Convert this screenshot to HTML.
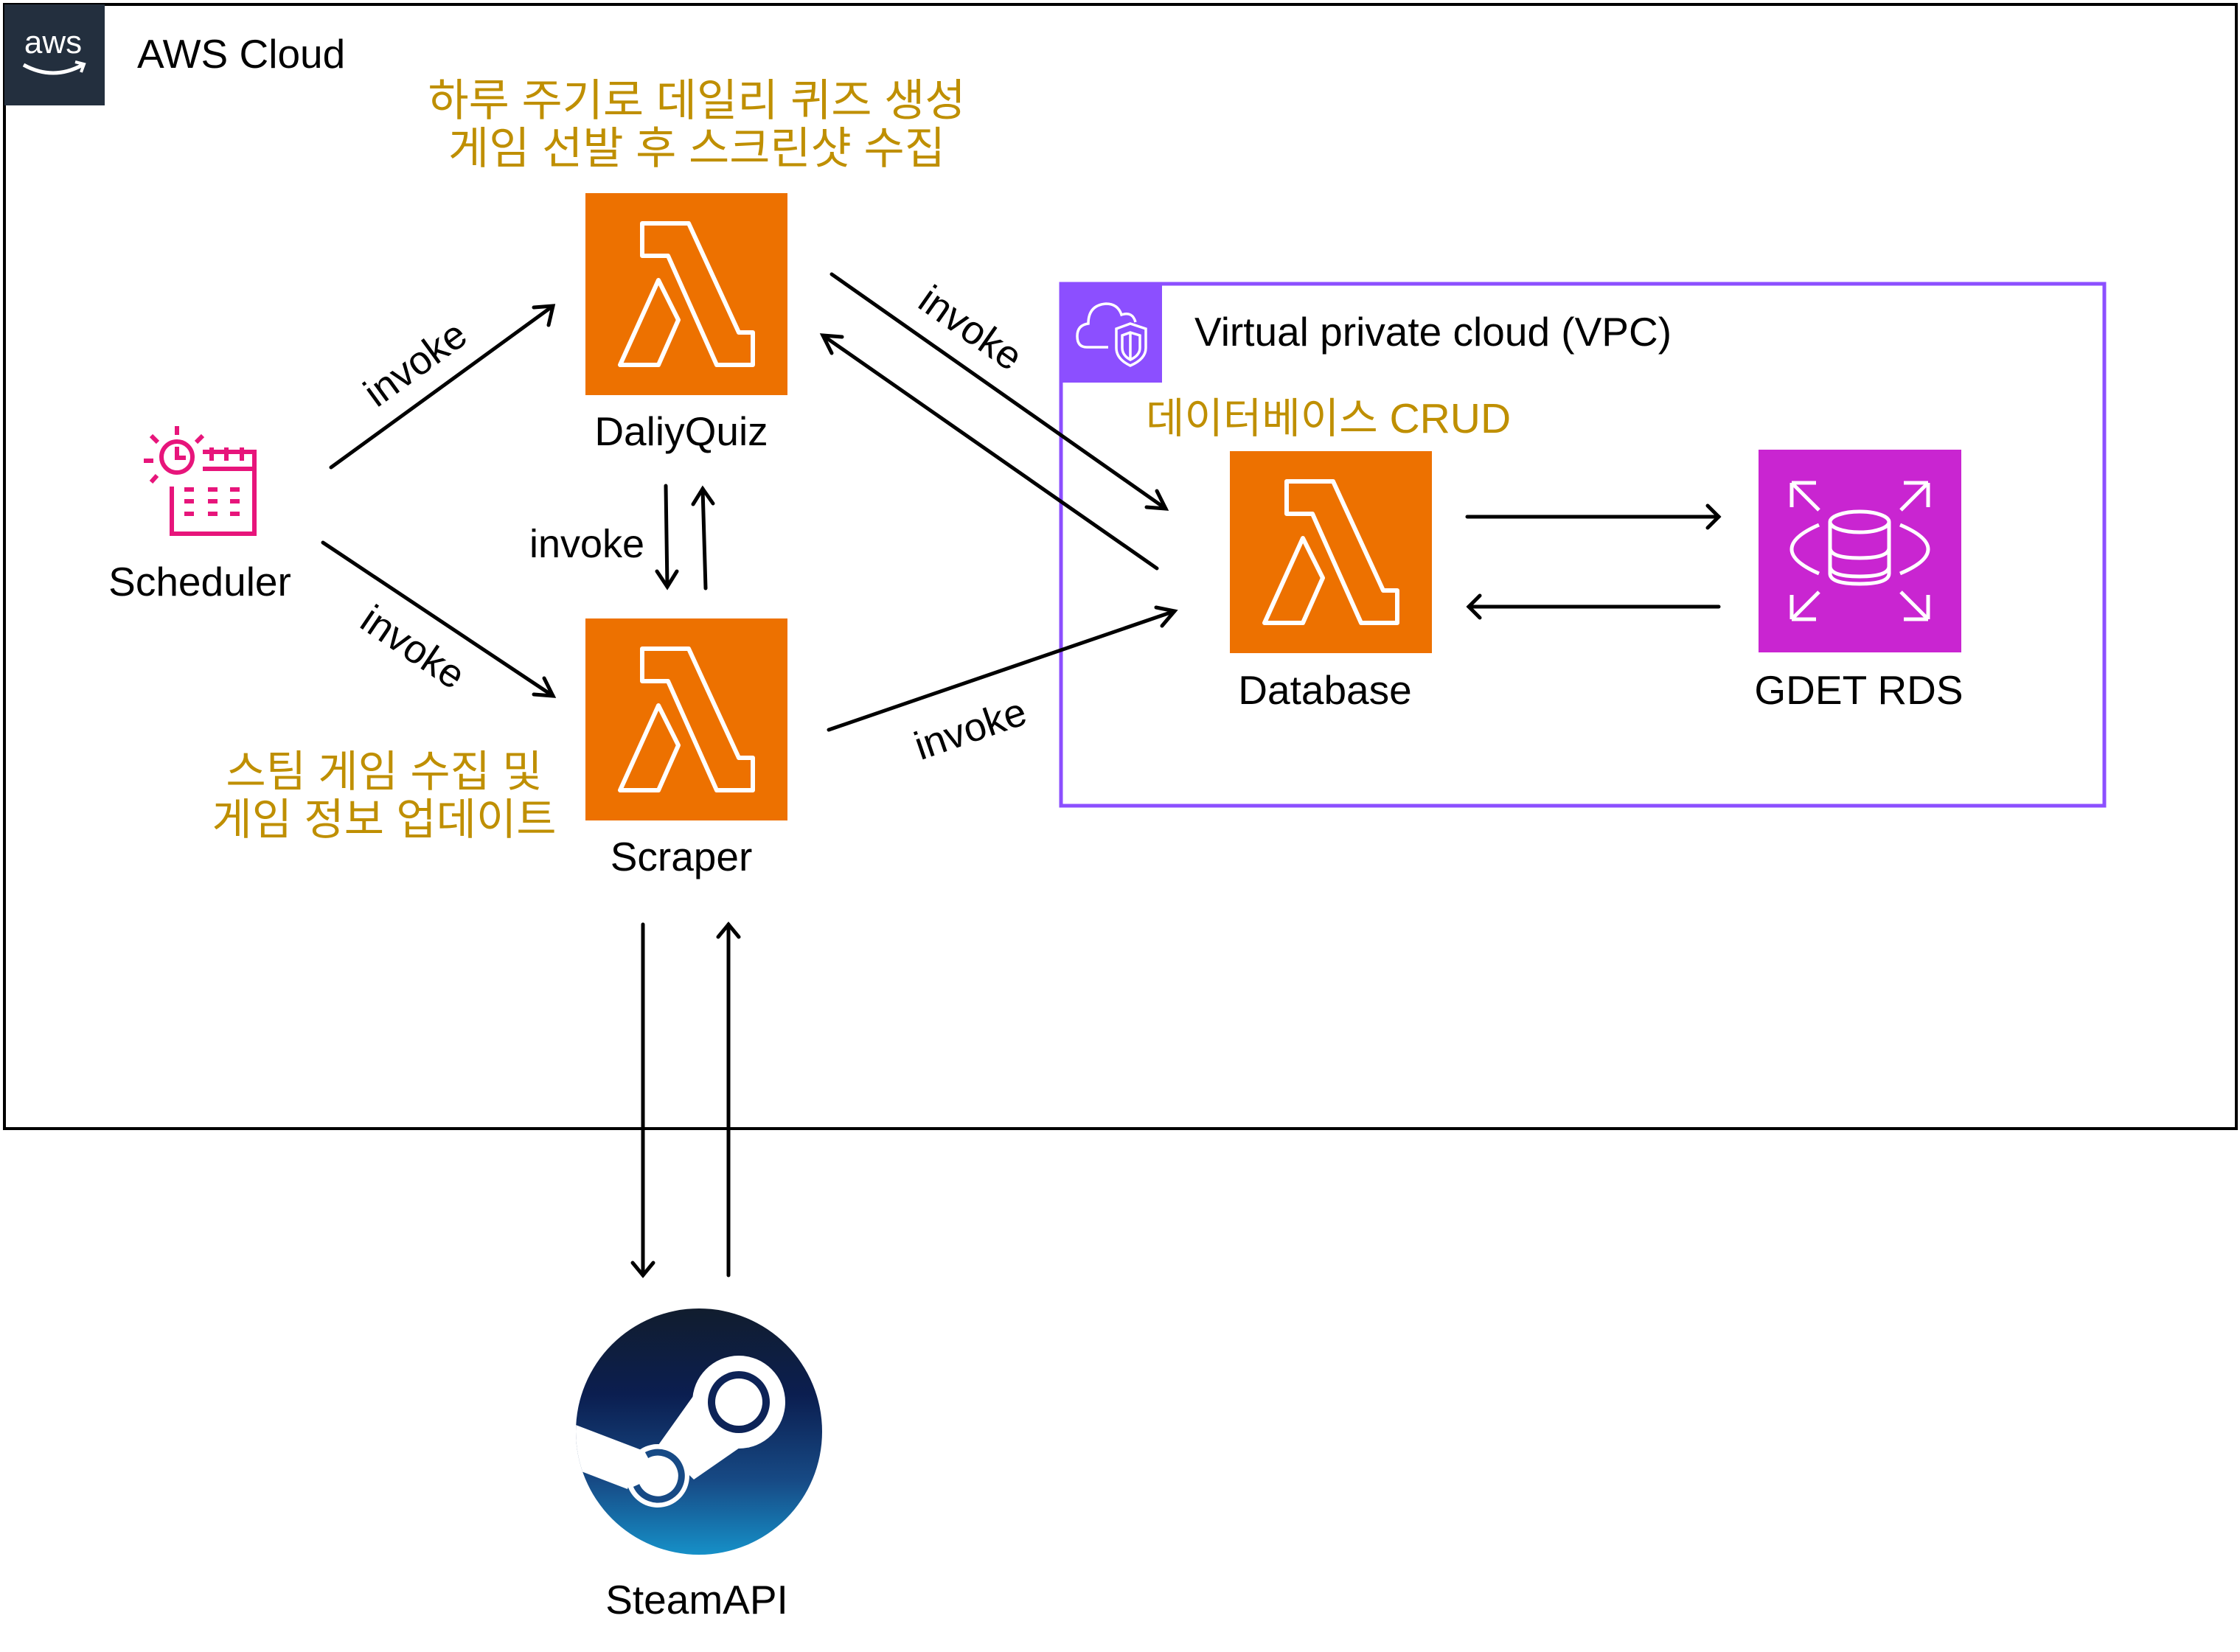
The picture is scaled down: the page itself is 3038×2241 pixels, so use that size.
<!DOCTYPE html>
<html><head><meta charset="utf-8"><style>
html,body{margin:0;padding:0;background:#fff;width:3038px;height:2241px;overflow:hidden}
text{font-family:"Liberation Sans","Noto Sans CJK KR",sans-serif}
</style></head><body>
<svg width="3038" height="2241" viewBox="0 0 3038 2241" xmlns="http://www.w3.org/2000/svg">
<defs>
<g id="lam">
<rect x="0" y="0" width="274" height="274" fill="#ed7100"/>
<path d="M77,41 L140,41 L208,189 L227,189 L227,233 L178,233 L112,85 L77,85 Z" fill="none" stroke="#fff" stroke-width="6" stroke-linejoin="round"/>
<path d="M99,118 L47,233 L99,233 L126,172 Z" fill="none" stroke="#fff" stroke-width="6" stroke-linejoin="round"/>
</g>
<linearGradient id="sg" x1="0" y1="0" x2="0" y2="1">
<stop offset="0" stop-color="#111d2e"/><stop offset="0.35" stop-color="#0b1e50"/><stop offset="0.7" stop-color="#174a85"/><stop offset="1" stop-color="#1690c8"/>
</linearGradient>
<clipPath id="sc"><circle cx="0" cy="0" r="167"/></clipPath>
</defs>

<rect x="6" y="6" width="3027" height="1525" fill="none" stroke="#000" stroke-width="4"/>
<rect x="6" y="6" width="136" height="137" fill="#232f3e"/>
<text x="72" y="72" font-size="44" fill="#fff" text-anchor="middle">aws</text>
<path d="M32,88 Q72,110 112,88" fill="none" stroke="#fff" stroke-width="5"/>
<path d="M102,84 L114,87 L110,98" fill="none" stroke="#fff" stroke-width="4"/>
<text x="186" y="92" font-size="55" fill="#000">AWS Cloud</text>

<text x="945" y="157" font-size="60" fill="#bf8f00" text-anchor="middle">하루 주기로 데일리 퀴즈 생성</text>
<text x="945" y="222" font-size="60" fill="#bf8f00" text-anchor="middle">게임 선발 후 스크린샷 수집</text>

<use href="#lam" x="794" y="262"/>
<text x="924" y="604" font-size="55" text-anchor="middle">DaliyQuiz</text>
<use href="#lam" x="794" y="839"/>
<text x="924" y="1181" font-size="55" text-anchor="middle">Scraper</text>

<text x="521" y="1067" font-size="59" fill="#bf8f00" text-anchor="middle">스팀 게임 수집 및</text>
<text x="521" y="1132" font-size="59" fill="#bf8f00" text-anchor="middle">게임 정보 업데이트</text>

<g fill="none" stroke="#e7157b" stroke-width="6">
<circle cx="240" cy="620" r="21"/>
<path d="M240,606 L240,621 L252,621"/>
<path d="M240,578 L240,590 M195,625 L208,625 M205,591 L214,600 M275,591 L266,600 M205,654 L213,645"/>
<path d="M233,660 L233,724 L345,724 L345,613 L275,613 M275,636 L345,636"/>
<path d="M287,607 L287,625 M307,607 L307,625 M328,607 L328,625"/>
</g>
<g fill="#e7157b">
<rect x="250" y="661" width="13" height="6"/><rect x="282" y="661" width="13" height="6"/><rect x="312" y="661" width="13" height="6"/>
<rect x="250" y="677" width="13" height="6"/><rect x="282" y="677" width="13" height="6"/><rect x="312" y="677" width="13" height="6"/>
<rect x="250" y="694" width="13" height="6"/><rect x="282" y="694" width="13" height="6"/><rect x="312" y="694" width="13" height="6"/>
</g>
<text x="271" y="808" font-size="55" text-anchor="middle">Scheduler</text>

<rect x="1439" y="385" width="1415" height="708" fill="none" stroke="#8c4fff" stroke-width="5"/>
<rect x="1437" y="383" width="139" height="136" fill="#8c4fff"/>
<g fill="none" stroke="#fff" stroke-width="3.5" transform="translate(1436,382)">
<path d="M67,89 L38,89 Q25,89 25,74 Q25,59 40,57 Q40,32 64,30 Q80,30 85,45 Q100,40 104,55"/>
<path d="M97,57 L118,64 L118,90 Q118,105 97,114 Q78,105 78,90 L78,64 Z"/>
<path d="M97,69 L110,73 L110,90 Q110,100 97,106 Q86,100 86,90 L86,73 Z M97,69 L97,106"/>
</g>
<text x="1620" y="469" font-size="55" fill="#000">Virtual private cloud (VPC)</text>
<text x="1554" y="587" font-size="57" fill="#bf8f00">데이터베이스 CRUD</text>

<use href="#lam" x="1668" y="612"/>
<text x="1797" y="955" font-size="55" text-anchor="middle">Database</text>

<g transform="translate(2385,610)">
<rect width="275" height="275" fill="#c925d1"/>
<g fill="none" stroke="#fff" stroke-width="5">
<ellipse cx="137" cy="98" rx="40" ry="14"/>
<path d="M97,98 L97,168 Q97,182 137,182 Q177,182 177,168 L177,98"/>
<path d="M97,133 Q97,147 137,147 Q177,147 177,133"/>
<path d="M97,158 Q97,172 137,172 Q177,172 177,158"/>
<path d="M82,102 Q45,118 45,135 Q45,152 82,168"/>
<path d="M192,102 Q230,118 230,135 Q230,152 192,168"/>
<path d="M45,45 L82,82 M45,45 L78,45 M45,45 L45,78"/>
<path d="M230,45 L193,82 M230,45 L197,45 M230,45 L230,78"/>
<path d="M45,230 L82,193 M45,230 L78,230 M45,230 L45,197"/>
<path d="M230,230 L193,193 M230,230 L197,230 M230,230 L230,197"/>
</g>
</g>
<text x="2521" y="955" font-size="55" text-anchor="middle">GDET RDS</text>

<g transform="translate(948,1942)">
<circle r="167" fill="url(#sg)"/>
<g clip-path="url(#sc)" fill="#fff">
<polygon points="-175,-12 -175,48 -97,78 -78,25"/>
<polygon points="-8,-48 -55,18 -7,65 55,22"/>
</g>
<circle cx="54" cy="-40" r="63" fill="#fff"/>
<circle cx="54" cy="-40" r="42" fill="#0d2357"/>
<circle cx="54" cy="-40" r="32" fill="#fff"/>
<circle cx="-56" cy="60" r="43" fill="#fff"/>
<path d="M-71,32 A32,32 0 1 1 -85,73" fill="none" stroke="#174a85" stroke-width="9"/>
</g>
<text x="945" y="2189" font-size="55" text-anchor="middle">SteamAPI</text>

<g stroke="#000" stroke-width="5" fill="none" stroke-linecap="round">
<path d="M449,634 L750,415"/><path d="M724,417 L750,415 L744,441"/>
<path d="M438,736 L750,944"/><path d="M738,920 L750,944 L724,942"/>
<path d="M903,659 L905,796"/><path d="M891,775 L905,796 L918,775"/>
<path d="M957,798 L953,663"/><path d="M940,684 L953,663 L967,683"/>
<path d="M1128,372 L1581,690"/><path d="M1569,666 L1581,690 L1555,688"/>
<path d="M1569,771 L1116,455"/><path d="M1128,479 L1116,455 L1142,457"/>
<path d="M1124,990 L1593,829"/><path d="M1568,824 L1593,829 L1576,849"/>
<path d="M1990,701 L2331,701"/><path d="M2316,686 L2331,701 L2316,716"/>
<path d="M2331,823 L1992,823"/><path d="M2007,808 L1992,823 L2007,838"/>
<path d="M872,1254 L872,1730"/><path d="M858,1713 L872,1730 L886,1713"/>
<path d="M988,1730 L988,1254"/><path d="M974,1271 L988,1254 L1002,1271"/>
</g>

<text font-size="54" text-anchor="middle" transform="translate(574,508) rotate(-36)">invoke</text>
<text font-size="54" text-anchor="middle" transform="translate(550,893) rotate(34)">invoke</text>
<text font-size="54" text-anchor="middle" x="796" y="756">invoke</text>
<text font-size="54" text-anchor="middle" transform="translate(1306,460) rotate(35)">invoke</text>
<text font-size="54" text-anchor="middle" transform="translate(1322,1006) rotate(-19)">invoke</text>
</svg>
</body></html>
